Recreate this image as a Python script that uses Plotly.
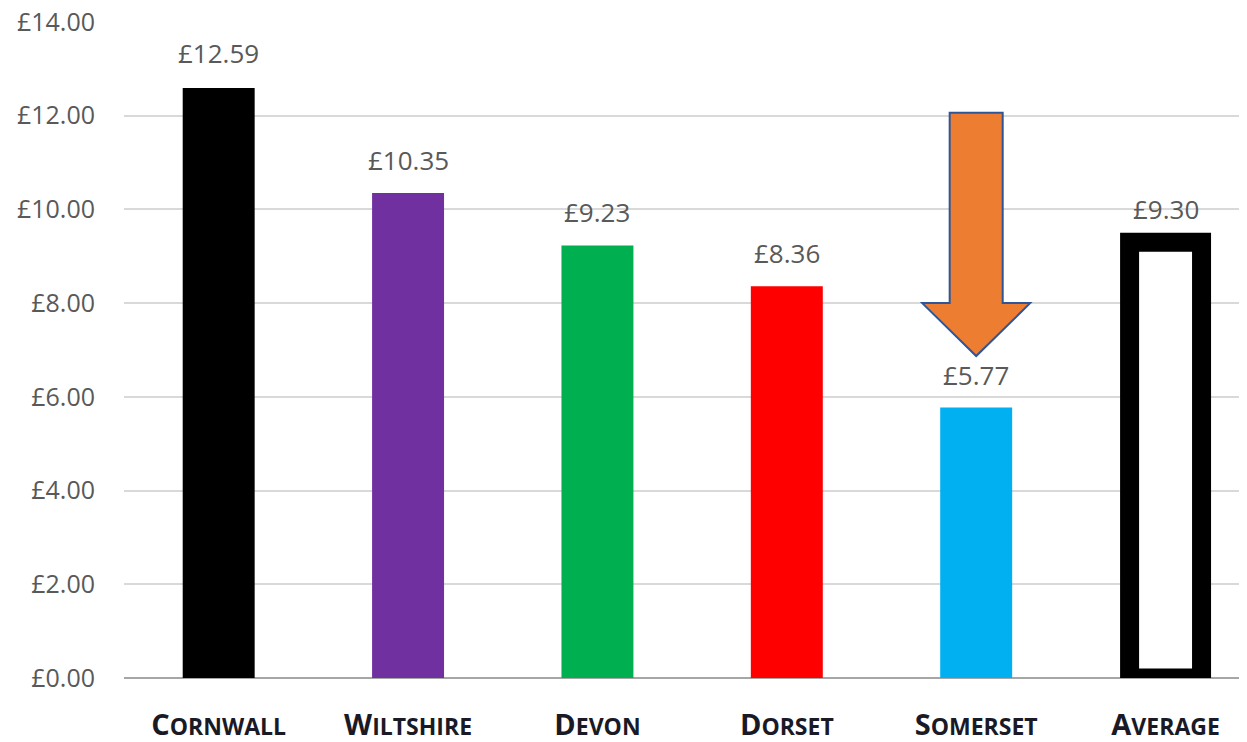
import plotly.graph_objects as go

categories = ["Cornwall", "Wiltshire", "Devon", "Dorset", "Somerset", "Average"]
values = [12.59, 10.35, 9.23, 8.36, 5.77, 9.30]
value_labels = ["£12.59", "£10.35", "£9.23", "£8.36", "£5.77", "£9.30"]
bar_colors = ["#000000", "#7030A0", "#00B050", "#FF0000", "#00B0F0", "#FFFFFF"]
y_ticks = [0, 2, 4, 6, 8, 10, 12, 14]
y_tick_labels = ["£0.00", "£2.00", "£4.00", "£6.00", "£8.00", "£10.00", "£12.00", "£14.00"]

def small_caps(word):
    return ("<span style='font-size:29px'>" + word[0].upper() + "</span>" + word[1:].upper())

tick_text = [small_caps(c) for c in categories]
x_idx = list(range(len(categories)))

fig = go.Figure()

# regular bars
fig.add_trace(go.Bar(
    x=x_idx[:-1], y=values[:-1],
    marker=dict(color=bar_colors[:-1], line=dict(width=0)),
    width=0.38, hoverinfo="skip", showlegend=False,
))
# average bar: hollow with thick black outline
fig.add_trace(go.Bar(
    x=[x_idx[-1]], y=[values[-1]],
    marker=dict(color=bar_colors[-1], line=dict(color="#000000", width=19)),
    width=0.38, hoverinfo="skip", showlegend=False,
))

label_shift = [15, 13, 13, 13, 13, 13]
for i, (v, t) in enumerate(zip(values, value_labels)):
    fig.add_annotation(x=i, y=v, text=t, showarrow=False, yanchor="bottom",
                       yshift=label_shift[i],
                       font=dict(family="Open Sans", size=26, color="#595959"))

# orange arrow pointing down at Somerset
si = categories.index("Somerset")
sv = values[si]
tip = sv + 1.1
head_base = tip + 1.13
top = 12.06
sw, hw = 0.14, 0.285
path = (f"M {si-sw} {top} L {si+sw} {top} L {si+sw} {head_base} L {si+hw} {head_base} "
        f"L {si} {tip} L {si-hw} {head_base} L {si-sw} {head_base} Z")
fig.add_shape(type="path", path=path, xref="x", yref="y",
              fillcolor="#ED7D31", line=dict(color="#2F5597", width=2), layer="above")

fig.update_layout(
    width=1239, height=734,
    margin=dict(l=116, r=0, t=13, b=64),
    paper_bgcolor="white", plot_bgcolor="white",
    font=dict(family="Open Sans"),
)
fig.update_xaxes(
    range=[-0.5, 5.43], tickmode="array", tickvals=x_idx, ticktext=tick_text,
    showgrid=False, showline=False, zeroline=False, ticks="", automargin=False,
    tickfont=dict(family="Open Sans", size=23, color="#1a1a26", weight="bold"),
    ticklabelstandoff=33,
)
fig.update_yaxes(
    range=[0, 14.02], tickmode="array", tickvals=y_ticks, ticktext=y_tick_labels,
    showgrid=True, gridcolor="#d9d9d9", gridwidth=2, automargin=False,
    zeroline=True, zerolinecolor="#a6a6a6", zerolinewidth=2,
    showline=False, ticks="", ticklabelstandoff=28, ticklabeloverflow="allow",
    tickfont=dict(family="Open Sans", size=25, color="#595959"),
)

fig.write_html("out.html")
